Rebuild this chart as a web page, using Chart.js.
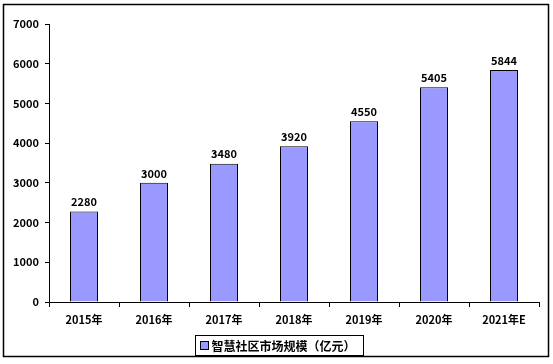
<!DOCTYPE html>
<html><head><meta charset="utf-8">
<script src="https://cdn.jsdelivr.net/npm/chart.js@4"></script>
<style>html,body{margin:0;padding:0;background:#fff;}#wrap{width:553px;height:364px;}</style>
</head><body><div id="wrap"><canvas id="c" width="553" height="364"></canvas></div>
<script>
const categories = ['2015年','2016年','2017年','2018年','2019年','2020年','2021年E'];
const marketSize = [2280,3000,3480,3920,4550,5405,5844];
const seriesLabel = '智慧社区市场规模（亿元）';
const yTicks = [0,1000,2000,3000,4000,5000,6000,7000];

const FONT = '"Noto Sans CJK SC", "DejaVu Sans", sans-serif';

const frame = {
  id:'frame',
  afterDraw(chart){
    const ctx = chart.ctx;
    ctx.save();
    ctx.strokeStyle='#000'; ctx.lineWidth=1.5;
    ctx.strokeRect(3.5,4.5,545,352);
    const meta = chart.getDatasetMeta(0);
    ctx.fillStyle='#000';
    ctx.font='bold 11px '+FONT;
    ctx.textAlign='center'; ctx.textBaseline='bottom';
    meta.data.forEach((b,i)=>{ ctx.fillText(String(chart.data.datasets[0].data[i]), b.x, b.y-4); });
    const ds = chart.data.datasets[0];
    ctx.font='bold 12px '+FONT;
    const tw = ctx.measureText(ds.label).width;
    const w = tw + 24, h = 20;
    const x0 = Math.round(279 - w/2)+0.5, y0 = 335.5;
    ctx.lineWidth=1;
    ctx.strokeRect(x0,y0,w,h);
    ctx.fillStyle=ds.backgroundColor;
    ctx.fillRect(x0+5,y0+6,8,8);
    ctx.strokeRect(x0+5,y0+6,8,8);
    ctx.fillStyle='#000'; ctx.textAlign='left'; ctx.textBaseline='middle';
    ctx.fillText(ds.label, x0+16, y0+h/2+1);
    ctx.restore();
  }
};

new Chart(document.getElementById('c'),{
  type:'bar',
  data:{labels:categories,datasets:[{label:seriesLabel,data:marketSize,backgroundColor:'#9999ff',borderColor:'#000',borderWidth:1,barPercentage:0.4,categoryPercentage:1}]},
  options:{
    responsive:false,animation:false,
    layout:{padding:{left:0,right:14,top:24,bottom:0}},
    plugins:{legend:{display:false},tooltip:{enabled:false}},
    scales:{
      x:{
        grid:{display:true,drawOnChartArea:false,drawTicks:true,tickLength:5,color:'#000',offset:true},
        border:{color:'#000',width:1},
        ticks:{color:'#000',font:{family:FONT,size:11,weight:'bold'},padding:6,maxRotation:0},
        afterFit(s){s.height=62;}
      },
      y:{
        min:0,max:7000,
        afterBuildTicks(s){s.ticks=yTicks.map(v=>({value:v}));},
        grid:{display:true,drawOnChartArea:false,drawTicks:true,tickLength:4,color:'#000'},
        border:{color:'#000',width:1},
        ticks:{color:'#000',font:{family:FONT,size:11,weight:'bold'},padding:6,callback:v=>String(v)},
        afterFit(s){s.width=49;}
      }
    }
  },
  plugins:[frame]
});
</script></body></html>
